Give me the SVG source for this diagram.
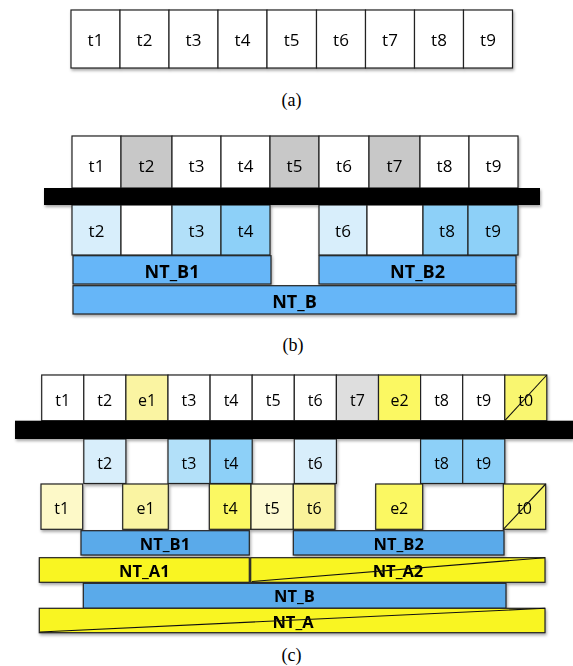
<svg xmlns="http://www.w3.org/2000/svg" width="573" height="666" viewBox="0 0 573 666">
<defs>
<filter id="sh" x="-20%" y="-20%" width="140%" height="160%">
<feDropShadow dx="1" dy="2" stdDeviation="1.5" flood-color="#000" flood-opacity="0.35"/>
</filter>
</defs>
<style>
rect.c{stroke:#222;stroke-width:1.2}
text{font-family:"Open Sans","Liberation Sans",sans-serif;fill:#000;text-anchor:middle}
.t16{font-size:17px}
.t15{font-size:16px}
.b{font-weight:bold;font-size:18px}
.b2{font-weight:bold;font-size:16.5px}
.cap{font-family:"Liberation Serif",serif;font-size:18px}
.w{fill:#fff}
.g{fill:#c8c8c8}
.lg{fill:#dedede}
.b1{fill:#d8eefb}
.b2c{fill:#b2e0f9}
.b3{fill:#8dd0f8}
.bb{fill:#66b6f8}
.bc{fill:#5aaaea}
.y0{fill:#fdf9c8}
.y1{fill:#faf4a2}
.y2{fill:#fbf862}
.y3{fill:#f9f66f}
.y5{fill:#fdfad2}
.y6{fill:#faf39a}
.ya{fill:#f9f524}
.bar{fill:#000}
.dg{stroke:#111;stroke-width:1.1;fill:none}
</style>

<!-- (a) -->
<g id="a" filter="url(#sh)">
<g id="a_t1"><rect class="c w" x="71" y="10" width="49" height="58"/><text class="t16" x="95.5" y="46">t1</text></g>
<g id="a_t2"><rect class="c w" x="120" y="10" width="49" height="58"/><text class="t16" x="144.5" y="46">t2</text></g>
<g id="a_t3"><rect class="c w" x="169" y="10" width="49" height="58"/><text class="t16" x="193.5" y="46">t3</text></g>
<g id="a_t4"><rect class="c w" x="218" y="10" width="49" height="58"/><text class="t16" x="242.5" y="46">t4</text></g>
<g id="a_t5"><rect class="c w" x="267" y="10" width="49.5" height="58"/><text class="t16" x="291.7" y="46">t5</text></g>
<g id="a_t6"><rect class="c w" x="316.5" y="10" width="49" height="58"/><text class="t16" x="341" y="46">t6</text></g>
<g id="a_t7"><rect class="c w" x="365.5" y="10" width="49" height="58"/><text class="t16" x="390" y="46">t7</text></g>
<g id="a_t8"><rect class="c w" x="414.5" y="10" width="49" height="58"/><text class="t16" x="439" y="46">t8</text></g>
<g id="a_t9"><rect class="c w" x="463.5" y="10" width="49" height="58"/><text class="t16" x="488" y="46">t9</text></g>
</g>
<text class="cap" x="291.5" y="106">(a)</text>

<!-- (b) -->
<g id="b" filter="url(#sh)">
<g id="b_t1"><rect class="c w" x="72" y="136" width="49" height="52"/><text class="t16" x="96.5" y="172">t1</text></g>
<g id="b_t2"><rect class="c g" x="121" y="136" width="51" height="52"/><text class="t16" x="146.5" y="172">t2</text></g>
<g id="b_t3"><rect class="c w" x="172" y="136" width="49" height="52"/><text class="t16" x="196.5" y="172">t3</text></g>
<g id="b_t4"><rect class="c w" x="221" y="136" width="49" height="52"/><text class="t16" x="245.5" y="172">t4</text></g>
<g id="b_t5"><rect class="c g" x="270" y="136" width="49" height="52"/><text class="t16" x="294.5" y="172">t5</text></g>
<g id="b_t6"><rect class="c w" x="319" y="136" width="50" height="52"/><text class="t16" x="344" y="172">t6</text></g>
<g id="b_t7"><rect class="c g" x="369" y="136" width="51" height="52"/><text class="t16" x="394.5" y="172">t7</text></g>
<g id="b_t8"><rect class="c w" x="420" y="136" width="49" height="52"/><text class="t16" x="444.5" y="172">t8</text></g>
<g id="b_t9"><rect class="c w" x="469" y="136" width="49" height="52"/><text class="t16" x="493.5" y="172">t9</text></g>

<g id="b_r2_t2"><rect class="c b1" x="72" y="205" width="49" height="50"/><text class="t16" x="96.5" y="237">t2</text></g>
<g id="b_r2_e1"><rect class="c w" x="121" y="205" width="51" height="50"/></g>
<g id="b_r2_t3"><rect class="c b2c" x="172" y="205" width="49" height="50"/><text class="t16" x="196.5" y="237">t3</text></g>
<g id="b_r2_t4"><rect class="c b3" x="221" y="205" width="49" height="50"/><text class="t16" x="245.5" y="237">t4</text></g>
<g id="b_r2_t6"><rect class="c b1" x="319" y="205" width="48" height="50"/><text class="t16" x="343" y="237">t6</text></g>
<g id="b_r2_e2"><rect class="c w" x="367" y="205" width="56" height="50"/></g>
<g id="b_r2_t8"><rect class="c b3" x="423" y="205" width="45" height="50"/><text class="t16" x="447" y="237">t8</text></g>
<g id="b_r2_t9"><rect class="c b3" x="468" y="205" width="50" height="50"/><text class="t16" x="493" y="237">t9</text></g>

<g id="b_ntb1"><rect class="c bb" x="73" y="255.7" width="198" height="28.3"/><text class="b" x="172" y="278">NT_B1</text></g>
<g id="b_ntb2"><rect class="c bb" x="319" y="255.7" width="197" height="28.3"/><text class="b" x="417.5" y="278">NT_B2</text></g>
<g id="b_ntb"><rect class="c bb" x="73" y="285.7" width="443" height="28.3"/><text class="b" x="294.5" y="308">NT_B</text></g>
<g id="b_bar"><rect class="bar" x="44" y="188" width="496" height="17"/></g>
</g>
<text class="cap" x="293" y="351">(b)</text>

<!-- (c) -->
<g id="c" filter="url(#sh)">
<g id="c_t1"><rect class="c w" x="41.7" y="375" width="42.1" height="45.7"/><text class="t15" x="62.7" y="406">t1</text></g>
<g id="c_t2"><rect class="c w" x="83.8" y="375" width="42.1" height="45.7"/><text class="t15" x="104.8" y="406">t2</text></g>
<g id="c_e1"><rect class="c y1" x="125.9" y="375" width="42.1" height="45.7"/><text class="t15" x="147" y="406">e1</text></g>
<g id="c_t3"><rect class="c w" x="168" y="375" width="42.1" height="45.7"/><text class="t15" x="189" y="406">t3</text></g>
<g id="c_t4"><rect class="c w" x="210.1" y="375" width="42.1" height="45.7"/><text class="t15" x="231.1" y="406">t4</text></g>
<g id="c_t5"><rect class="c w" x="252.2" y="375" width="42.1" height="45.7"/><text class="t15" x="273.2" y="406">t5</text></g>
<g id="c_t6"><rect class="c w" x="294.3" y="375" width="42.1" height="45.7"/><text class="t15" x="315.3" y="406">t6</text></g>
<g id="c_t7"><rect class="c lg" x="336.4" y="375" width="42.1" height="45.7"/><text class="t15" x="357.4" y="406">t7</text></g>
<g id="c_e2"><rect class="c y2" x="378.5" y="375" width="42.1" height="45.7"/><text class="t15" x="399.5" y="406">e2</text></g>
<g id="c_t8"><rect class="c w" x="420.6" y="375" width="42.1" height="45.7"/><text class="t15" x="441.6" y="406">t8</text></g>
<g id="c_t9"><rect class="c w" x="462.7" y="375" width="42.1" height="45.7"/><text class="t15" x="483.7" y="406">t9</text></g>
<g id="c_t0"><rect class="c y3" x="504.8" y="375" width="42" height="45.7"/><text class="t15" x="525.8" y="406">t0</text><line class="dg" x1="504.8" y1="420.7" x2="546.8" y2="375"/></g>

<g id="c_r2_t2"><rect class="c b1" x="83.8" y="439" width="42.1" height="44.5"/><text class="t15" x="104.8" y="469">t2</text></g>
<g id="c_r2_t3"><rect class="c b2c" x="168" y="439" width="42.1" height="44.5"/><text class="t15" x="189" y="469">t3</text></g>
<g id="c_r2_t4"><rect class="c b3" x="210.1" y="439" width="42.1" height="44.5"/><text class="t15" x="231.1" y="469">t4</text></g>
<g id="c_r2_t6"><rect class="c b1" x="294.3" y="439" width="42.1" height="44.5"/><text class="t15" x="315.3" y="469">t6</text></g>
<g id="c_r2_t8"><rect class="c b3" x="420.6" y="439" width="42.1" height="44.5"/><text class="t15" x="441.6" y="469">t8</text></g>
<g id="c_r2_t9"><rect class="c b3" x="462.7" y="439" width="42.1" height="44.5"/><text class="t15" x="483.7" y="469">t9</text></g>

<g id="c_r3_t1"><rect class="c y0" x="41" y="484" width="41.7" height="45.3"/><text class="t15" x="61.8" y="514">t1</text></g>
<g id="c_r3_e1"><rect class="c y1" x="122.7" y="484" width="45.6" height="45.3"/><text class="t15" x="145.5" y="514">e1</text></g>
<g id="c_r3_t4"><rect class="c y2" x="209.3" y="484" width="41.7" height="45.3"/><text class="t15" x="230.2" y="514">t4</text></g>
<g id="c_r3_t5"><rect class="c y5" x="251" y="484" width="42.3" height="45.3"/><text class="t15" x="272.2" y="514">t5</text></g>
<g id="c_r3_t6"><rect class="c y6" x="293.3" y="484" width="41.7" height="45.3"/><text class="t15" x="314.2" y="514">t6</text></g>
<g id="c_r3_e2"><rect class="c y2" x="375.7" y="484" width="47" height="45.3"/><text class="t15" x="399.2" y="514">e2</text></g>
<g id="c_r3_t0"><rect class="c y3" x="503.3" y="484" width="42.4" height="45.3"/><text class="t15" x="524.5" y="514">t0</text><line class="dg" x1="503.3" y1="529.3" x2="545.7" y2="484"/></g>

<g id="c_ntb1"><rect class="c bc" x="81" y="530.7" width="168.3" height="24.3"/><text class="b2" x="165" y="550">NT_B1</text></g>
<g id="c_ntb2"><rect class="c bc" x="293.3" y="530.7" width="210.7" height="24.3"/><text class="b2" x="398.7" y="550">NT_B2</text></g>
<g id="c_nta1"><rect class="c ya" x="39.3" y="557.7" width="210" height="24.6"/><text class="b2" x="144.3" y="577">NT_A1</text></g>
<g id="c_nta2"><rect class="c ya" x="250.7" y="557.7" width="294.3" height="24.6"/><text class="b2" x="398" y="577">NT_A2</text><line class="dg" x1="252" y1="581.5" x2="545" y2="557.7"/></g>
<g id="c_ntb"><rect class="c bc" x="83.3" y="583.3" width="422.7" height="25"/><text class="b2" x="294.5" y="602">NT_B</text></g>
<g id="c_nta"><rect class="c ya" x="39.3" y="608.3" width="505.7" height="24.4"/><text class="b2" x="293" y="627.5">NT_A</text><line class="dg" x1="40" y1="632" x2="545" y2="608.3"/></g>
<g id="c_bar"><rect class="bar" x="15" y="420.7" width="558" height="18.3"/></g>
</g>
<text class="cap" x="291.5" y="661">(c)</text>
</svg>
